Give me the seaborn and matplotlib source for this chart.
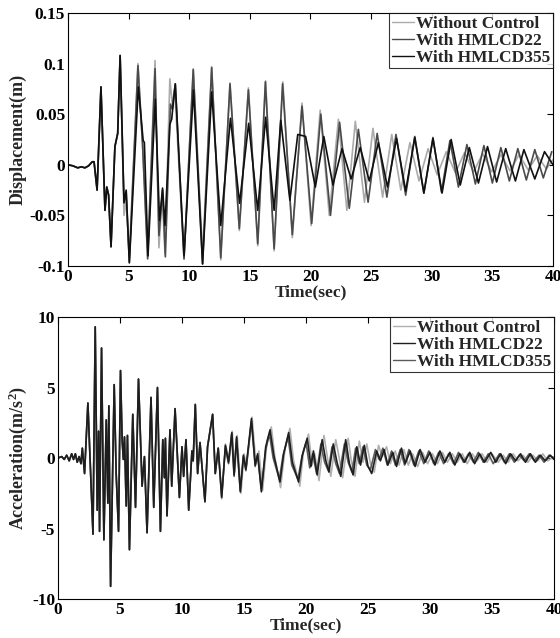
import numpy as np
import pandas as pd
import matplotlib
matplotlib.use("Agg")
import matplotlib.pyplot as plt
import seaborn as sns

# ---------------- Displacement data ----------------
disp_early_t = [0, 0.4, 0.8, 1.1, 1.4, 1.7, 2.0, 2.15, 2.4, 2.72, 3.05, 3.2, 3.35, 3.55, 3.87, 4.1, 4.3]
disp_early = [0, -0.001, -0.003, -0.002, -0.003, -0.001, 0.003, 0.003, -0.025, 0.077, -0.045, -0.022,
              -0.03, -0.081, 0.018, 0.031, 0.108]

disp_u_t = [4.62, 4.8, 5.06, 5.77, 6.15, 6.57, 7.18, 7.5, 7.78, 8.0, 8.4, 8.6, 8.8, 9.57, 10.33, 11.1,
            11.85, 12.6, 13.36, 14.13, 14.88, 15.65, 16.3, 17.0, 17.72, 18.5, 19.3, 20.05, 20.8, 21.55,
            22.3, 23.0, 23.7, 24.45, 25.15, 25.95, 26.7, 27.45, 28.2, 28.95, 29.7, 30.45, 31.2, 31.95,
            32.7, 33.45, 34.2, 34.95, 35.7, 36.45, 37.2, 37.95, 38.7, 39.45, 40.0]
disp_u = [-0.05, -0.035, -0.09, 0.1, 0.02, -0.09, 0.103, -0.082, -0.03, -0.088, 0.085, 0.06, 0.075,
          -0.093, 0.095, -0.088, 0.097, -0.094, 0.081, -0.065, 0.076, -0.08, 0.083, -0.085, 0.082,
          -0.072, 0.061, -0.06, 0.054, -0.05, 0.045, -0.045, 0.043, -0.037, 0.036, -0.032, 0.03,
          -0.025, 0.022, -0.016, 0.016, -0.01, 0.013, -0.008, 0.012, -0.007, 0.011, -0.007, 0.01,
          -0.006, 0.01, -0.005, 0.009, -0.004, 0.005]

disp_a_t = [4.62, 4.8, 5.06, 5.77, 6.15, 6.57, 7.18, 7.5, 7.8, 8.03, 8.45, 8.6, 8.85, 9.57, 10.33, 11.1,
            11.85, 12.6, 13.36, 14.13, 14.88, 15.65, 16.28, 17.0, 17.7, 18.5, 19.3, 20.1, 20.85, 21.65,
            22.4, 23.2, 23.95, 24.75, 25.5, 26.3, 27.05, 27.85, 28.6, 29.35, 30.1, 30.8, 31.5, 32.2,
            32.9, 33.6, 34.3, 35.0, 35.7, 36.4, 37.1, 37.8, 38.5, 39.2, 39.9]
disp_a = [-0.038, -0.027, -0.096, 0.098, 0.02, -0.093, 0.095, -0.07, -0.025, -0.091, 0.06, 0.055, 0.08,
          -0.093, 0.094, -0.098, 0.096, -0.092, 0.08, -0.063, 0.074, -0.078, 0.082, -0.083, 0.08,
          -0.069, 0.058, -0.058, 0.05, -0.05, 0.042, -0.043, 0.035, -0.037, 0.031, -0.032, 0.03,
          -0.03, 0.028, -0.028, 0.027, -0.027, 0.024, -0.022, 0.02, -0.019, 0.019, -0.018, 0.017,
          -0.016, 0.016, -0.015, 0.015, -0.013, 0.013]

disp_b_t = [4.62, 4.8, 5.06, 5.8, 6.2, 6.3, 6.6, 7.2, 7.55, 7.8, 8.0, 8.4, 8.55, 8.85, 9.57, 10.35, 11.1,
            11.85, 12.6, 13.4, 14.15, 14.9, 15.65, 16.3, 17.0, 17.55, 18.3, 18.95, 19.6, 20.4, 21.1,
            21.85, 22.6, 23.35, 24.1, 24.85, 25.6, 26.35, 27.1, 27.85, 28.6, 29.35, 30.1, 30.85, 31.6,
            32.35, 33.1, 33.85, 34.6, 35.35, 36.1, 36.9, 37.6, 38.5, 39.3, 40.0]
disp_b = [-0.037, -0.025, -0.097, 0.077, 0.024, 0.022, -0.09, 0.065, -0.055, -0.023, -0.06, 0.04, 0.045,
          0.08, -0.09, 0.074, -0.098, 0.072, -0.06, 0.046, -0.038, 0.041, -0.045, 0.047, -0.045, 0.044,
          -0.035, 0.03, 0.028, -0.022, 0.028, -0.02, 0.016, -0.014, 0.017, -0.016, 0.022, -0.022,
          0.026, -0.026, 0.027, -0.028, 0.026, -0.028, 0.025, -0.02, 0.017, -0.018, 0.018, -0.017,
          0.016, -0.016, 0.015, -0.014, 0.013, 0.0]

# ---------------- Acceleration data ----------------
acc_early_t = [0, 0.3, 0.5, 0.7, 0.9, 1.1, 1.25, 1.4, 1.55, 1.7, 1.85, 1.96, 2.14, 2.41, 2.82, 3.0, 3.16,
               3.27, 3.35, 3.51, 3.7, 3.89, 4.02, 4.1, 4.24, 4.53, 4.69, 4.88, 5.04, 5.17, 5.27, 5.36,
               5.5, 5.6, 5.76, 6.03, 6.25, 6.49, 6.78, 6.97, 7.18, 7.5, 7.72, 8.02, 8.26, 8.45, 8.58,
               8.66, 8.79, 9.03, 9.17, 9.44, 9.79, 10.0, 10.13, 10.32, 10.54, 10.8, 10.9, 11.07, 11.26,
               11.45, 11.85, 12.06, 12.47, 12.68, 12.92]
acc_early = [0, 0.1, -0.1, 0.2, -0.2, 0.3, -0.1, 0.3, -0.3, 0.1, -0.4, 0.7, -1.1, 3.9, -5.4, 9.3, -3.7,
             1.9, -5.2, 7.8, -5.8, 2.7, -3.2, 3.7, -9.1, 5.2, -1.1, -5.2, 6.2, 1.3, -0.1, 1.5, -3.4,
             1.6, -6.5, 3.1, -3.5, 5.6, -2.0, 0.1, -5.3, 4.3, -3.5, 5.0, -5.2, 1.3, -1.4, 1.4, -4.1,
             2.0, -2.0, 3.5, -2.8, 0.8, -1.3, 1.3, -3.7, 0.5, -0.2, 3.8, -1.1, 1.1, -3.1, 0.8, 3.1,
             -1.1, 0.7]

acc_u_t = [13.2, 13.5, 13.8, 14.05, 14.25, 14.45, 14.75, 15.0, 15.2, 15.65, 15.95, 16.2, 16.5, 16.85,
           17.2, 17.5, 17.95, 18.3, 18.7, 19.0, 19.5, 19.8, 20.2, 20.5, 20.7, 21.05, 21.45, 21.75, 22.0,
           22.4, 22.7, 22.95, 23.4, 23.65, 23.95, 24.3, 24.6, 24.9, 25.2, 25.5, 25.85, 26.15, 26.5,
           26.8, 27.2, 27.5, 27.9, 28.25, 28.6, 29.0, 29.4, 29.8, 30.2, 30.6, 31.0, 31.4, 31.8, 32.2,
           32.6, 33.0, 33.4, 33.8, 34.2, 34.6, 35.0, 35.5, 35.9, 36.3, 36.7, 37.1, 37.5, 37.9, 38.3,
           38.7, 39.1, 39.5, 40.0]
acc_u = [-2.9, 1.0, -0.2, 1.9, -1.0, 1.6, -2.5, 0.3, -0.6, 2.9, -0.3, 0.5, -2.3, 1.2, 2.2, 0.0, -2.1,
         0.6, 2.1, -0.2, -2.0, 0.5, 1.7, -0.5, 0.3, -1.6, 1.6, -0.1, -1.3, 1.3, -0.1, -1.4, 1.4, -0.2,
         -1.3, 1.2, -0.3, 1.0, -0.4, -1.0, 0.9, 0.1, 0.8, -0.4, 0.5, -0.5, 0.6, -0.5, 0.3, -0.6, 0.4,
         -0.4, 0.3, -0.4, 0.4, -0.3, 0.3, -0.3, 0.3, -0.4, 0.3, -0.2, 0.3, -0.3, 0.3, -0.3, 0.2, -0.3,
         0.3, -0.2, 0.2, -0.3, 0.2, -0.2, 0.3, -0.2, 0.1]

acc_a_t = [13.2, 13.5, 13.75, 14.02, 14.2, 14.4, 14.7, 14.95, 15.15, 15.6, 15.9, 16.1, 16.4, 16.75, 17.1,
           17.4, 17.9, 18.2, 18.6, 18.9, 19.4, 19.7, 20.1, 20.4, 20.6, 20.9, 21.3, 21.6, 21.85, 22.2,
           22.5, 22.8, 23.2, 23.5, 23.8, 24.1, 24.4, 24.7, 25.0, 25.3, 25.7, 26.0, 26.3, 26.6, 27.0,
           27.3, 27.7, 28.0, 28.4, 28.8, 29.2, 29.6, 30.0, 30.4, 30.8, 31.2, 31.6, 32.0, 32.4, 32.8,
           33.2, 33.6, 34.0, 34.4, 34.9, 35.3, 35.7, 36.1, 36.5, 36.9, 37.3, 37.7, 38.1, 38.5, 38.9,
           39.3, 39.7, 40.0]
acc_a = [-2.8, 0.9, -0.3, 1.8, -1.2, 1.5, -2.4, 0.2, -0.8, 2.8, -0.5, 0.3, -2.4, 0.8, 2.0, 0.2, -1.7,
         0.3, 1.8, -0.3, -1.7, 0.2, 1.4, -0.6, 0.5, -1.2, 1.3, -0.2, -1.0, 1.0, -0.3, -1.3, 1.3, -0.4,
         -1.2, 0.8, -0.5, 0.9, -0.6, -1.1, 0.5, -0.2, 0.6, -0.5, 0.4, -0.6, 0.7, -0.4, 0.5, -0.6, 0.6,
         -0.3, 0.4, -0.5, 0.5, -0.3, 0.4, -0.5, 0.3, -0.3, 0.4, -0.4, 0.3, -0.3, 0.4, -0.3, 0.3, -0.4,
         0.3, -0.2, 0.3, -0.3, 0.3, -0.3, 0.2, -0.2, 0.2, -0.1]

acc_b_t = [13.2, 13.5, 13.75, 14.0, 14.2, 14.4, 14.7, 14.95, 15.15, 15.6, 15.9, 16.1, 16.4, 16.75, 17.05,
           17.35, 17.85, 18.15, 18.55, 18.85, 19.35, 19.65, 20.0, 20.3, 20.55, 20.85, 21.2, 21.5, 21.8,
           22.1, 22.4, 22.7, 23.1, 23.4, 23.7, 24.0, 24.3, 24.6, 24.9, 25.2, 25.6, 25.9, 26.2, 26.55,
           26.9, 27.2, 27.6, 27.95, 28.3, 28.7, 29.1, 29.5, 29.9, 30.3, 30.7, 31.1, 31.5, 31.9, 32.3,
           32.7, 33.1, 33.5, 33.9, 34.3, 34.7, 35.1, 35.6, 36.0, 36.4, 36.8, 37.2, 37.6, 38.0, 38.4,
           38.8, 39.2, 39.6, 40.0]
acc_b = [-2.7, 0.8, -0.4, 1.7, -1.3, 1.4, -2.3, 0.1, -0.9, 2.6, -0.6, 0.2, -2.2, 0.6, 1.7, 0.0, -1.5,
         0.2, 1.5, -0.5, -1.5, 0.0, 1.1, -0.7, 0.3, -1.1, 1.0, -0.3, -0.9, 0.8, -0.4, -1.1, 1.0, -0.3,
         -1.0, 0.7, -0.4, 0.8, -0.5, -0.8, 0.6, -0.1, 0.7, -0.5, 0.5, -0.5, 0.6, -0.5, 0.6, -0.5, 0.5,
         -0.4, 0.5, -0.4, 0.4, -0.4, 0.3, -0.4, 0.4, -0.3, 0.3, -0.3, 0.4, -0.3, 0.3, -0.4, 0.3, -0.3,
         0.3, -0.3, 0.2, -0.2, 0.3, -0.2, 0.2, -0.3, 0.2, 0.0]

labels = ["Without Control", "With HMLCD22", "With HMLCD355"]

# ---------------- Style ----------------
sns.set_style("white")
plt.rcParams["font.family"] = ["Liberation Serif", "DejaVu Serif"]
plt.rcParams["font.weight"] = "bold"
plt.rcParams["mathtext.fontset"] = "custom"
plt.rcParams["mathtext.rm"] = "Liberation Serif:bold"
plt.rcParams["mathtext.it"] = "Liberation Serif:bold"
plt.rcParams["mathtext.bf"] = "Liberation Serif:bold"

fig = plt.figure(figsize=(5.6, 6.38), dpi=100)
ax1 = fig.add_axes([0.1214, 0.5831, 0.8661, 0.3965])
ax2 = fig.add_axes([0.1036, 0.0611, 0.8857, 0.4420])


def build(early_t, early, t, v, name):
    return pd.DataFrame({"t": list(early_t) + list(t), "v": list(early) + list(v), "s": name})


disp_df = pd.concat([
    build(disp_early_t, disp_early, disp_u_t, disp_u, labels[0]),
    build(disp_early_t, disp_early, disp_a_t, disp_a, labels[1]),
    build(disp_early_t, disp_early, disp_b_t, disp_b, labels[2]),
])
acc_df = pd.concat([
    build(acc_early_t, acc_early, acc_u_t, acc_u, labels[0]),
    build(acc_early_t, acc_early, acc_a_t, acc_a, labels[1]),
    build(acc_early_t, acc_early, acc_b_t, acc_b, labels[2]),
])

disp_colors = {labels[0]: "#ababab", labels[1]: "#4a4a4a", labels[2]: "#101010"}
acc_colors = {labels[0]: "#b0b0b0", labels[1]: "#1e1e1e", labels[2]: "#5a5a5a"}

sns.lineplot(data=disp_df, x="t", y="v", hue="s", hue_order=labels, palette=disp_colors,
             estimator=None, sort=False, linewidth=1.2, ax=ax1)
# draw the darkest (HMLCD22) curve last, as in the reference
sns.lineplot(data=acc_df, x="t", y="v", hue="s", hue_order=[labels[0], labels[2], labels[1]],
             palette=acc_colors, estimator=None, sort=False, linewidth=1.2, ax=ax2)

TICK_FS = 12.5


def style(ax, ylim, yticks, yticklabels, ylabel):
    ax.set_xlim(0, 40)
    ax.set_ylim(*ylim)
    ax.set_xticks(range(0, 41, 5))
    ax.set_xticklabels([str(v) for v in range(0, 41, 5)], fontsize=TICK_FS, fontweight="bold")
    ax.set_yticks(yticks)
    ax.set_yticklabels(yticklabels, fontsize=TICK_FS, fontweight="bold")
    ax.tick_params(direction="in", length=4, width=0.8, top=True, right=True, pad=2, colors="black")
    ax.set_xlabel("Time(sec)", fontsize=12.5, fontweight="bold", labelpad=0)
    ax.set_ylabel(ylabel, fontsize=13, fontweight="bold", labelpad=2)
    for sp in ax.spines.values():
        sp.set_color("black")
        sp.set_linewidth(0.8)
    handles, labs = ax.get_legend_handles_labels()
    order = [labs.index(l) for l in labels]
    leg = ax.legend([handles[i] for i in order], [labs[i] for i in order],
                    loc="upper right", fontsize=12.5, frameon=True, fancybox=False, borderpad=0.15,
                    handlelength=1.3, handletextpad=0.1, labelspacing=0.05, borderaxespad=0.0)
    leg.get_frame().set_edgecolor("black")
    leg.get_frame().set_linewidth(0.8)
    for line in leg.get_lines():
        line.set_linewidth(1.0)
    for txt in leg.get_texts():
        txt.set_fontweight("bold")


style(ax1, (-0.1, 0.15), [-0.1, -0.05, 0, 0.05, 0.1, 0.15],
      ["-0.1", "-0.05", "0", "0.05", "0.1", "0.15"], "Displacement(m)")
style(ax2, (-10, 10), [-10, -5, 0, 5, 10], ["-10", "-5", "0", "5", "10"],
      r"Acceleration(m/s$^2$)")

fig.savefig("out.png", dpi=100)
